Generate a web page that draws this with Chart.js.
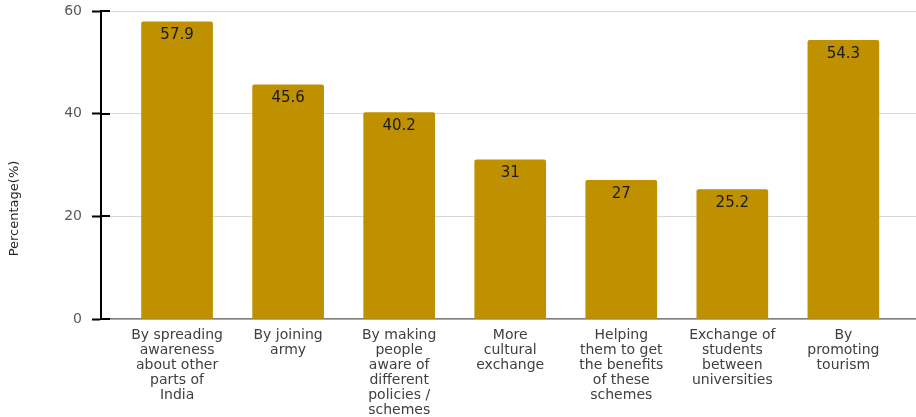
<!DOCTYPE html>
<html>
<head>
<meta charset="utf-8">
<script src="https://cdn.jsdelivr.net/npm/chart.js@4"></script>
<style>
  html, body { margin: 0; padding: 0; background: #fff; }
  #wrap { width: 916px; height: 417px; }
</style>
</head>
<body>
<div id="wrap"><canvas id="ways"></canvas></div>
<script>
// categories, one array of lines per bar
var categories = [
  ['By spreading', 'awareness', 'about other', 'parts of', 'India'],
  ['By joining', 'army'],
  ['By making', 'people', 'aware of', 'different', 'policies /', 'schemes'],
  ['More', 'cultural', 'exchange'],
  ['Helping', 'them to get', 'the benefits', 'of these', 'schemes'],
  ['Exchange of', 'students', 'between', 'universities'],
  ['By', 'promoting', 'tourism']
];
var percentages = [57.9, 45.6, 40.2, 31, 27, 25.2, 54.3];
var yTicks = [0, 20, 40, 60];
var yTitle = 'Percentage(%)';

var FONT = '"DejaVu Sans", sans-serif';

// value labels inside the top of each bar
var barLabels = {
  id: 'barLabels',
  afterDatasetsDraw: function (chart) {
    var ctx = chart.ctx;
    var meta = chart.getDatasetMeta(0);
    ctx.save();
    ctx.font = '15px ' + FONT;
    ctx.fillStyle = '#1a1a1a';
    ctx.textAlign = 'center';
    ctx.textBaseline = 'top';
    meta.data.forEach(function (bar, i) {
      ctx.fillText(String(percentages[i]), bar.x, bar.y + 6);
    });
    ctx.restore();
  }
};

// ticks crossing the y axis + title centred on the page height
var axisExtras = {
  id: 'axisExtras',
  afterDraw: function (chart) {
    var ctx = chart.ctx;
    var y = chart.scales.y;
    ctx.save();
    ctx.strokeStyle = '#000';
    ctx.lineWidth = 2;
    yTicks.forEach(function (t) {
      var py = Math.round(y.getPixelForValue(t));
      ctx.beginPath();
      ctx.moveTo(chart.chartArea.left, py);
      ctx.lineTo(chart.chartArea.left + 9, py);
      ctx.stroke();
    });
    ctx.translate(15, chart.height / 2);
    ctx.rotate(-Math.PI / 2);
    ctx.font = '13px ' + FONT;
    ctx.fillStyle = '#262626';
    ctx.textAlign = 'center';
    ctx.textBaseline = 'middle';
    ctx.fillText(yTitle, 0, 0);
    ctx.restore();
  }
};

new Chart(document.getElementById('ways'), {
  type: 'bar',
  data: {
    datasets: [{
      data: percentages.map(function (v, i) { return { x: i, y: v }; }),
      backgroundColor: '#BF9000',
      borderRadius: 2,
      borderSkipped: 'bottom',
      barThickness: 71
    }]
  },
  options: {
    responsive: true,
    maintainAspectRatio: false,
    animation: false,
    layout: { padding: { top: 11, right: 0, bottom: 0, left: 0 } },
    plugins: {
      legend: { display: false },
      tooltip: { enabled: false }
    },
    scales: {
      x: {
        type: 'linear',
        offset: false,
        min: -0.685,
        max: 6.654,
        afterBuildTicks: function (scale) {
          scale.ticks = categories.map(function (c, i) { return { value: i }; });
        },
        afterFit: function (scale) {
          scale.height = 98;
          scale.paddingLeft = 0;
          scale.paddingRight = 0;
        },
        grid: { display: false, drawTicks: false, offset: false },
        border: { color: '#7f7f7f', width: 1.5 },
        ticks: {
          autoSkip: false,
          maxRotation: 0,
          padding: 9,
          color: '#404040',
          font: { family: FONT, size: 14, lineHeight: 1.07 },
          callback: function (value) { return categories[value]; }
        }
      },
      y: {
        min: 0,
        max: 60,
        afterBuildTicks: function (scale) {
          scale.ticks = yTicks.map(function (v) { return { value: v }; });
        },
        afterFit: function (scale) {
          scale.width = 101;
          scale.paddingTop = 0;
          scale.paddingBottom = 0;
        },
        grid: { color: '#d9d9d9', tickColor: '#000', tickLength: 9, tickWidth: 2 },
        border: { color: '#000', width: 2 },
        ticks: {
          padding: 10,
          color: '#595959',
          font: { family: FONT, size: 14 }
        }
      }
    }
  },
  plugins: [barLabels, axisExtras]
});
</script>
</body>
</html>
